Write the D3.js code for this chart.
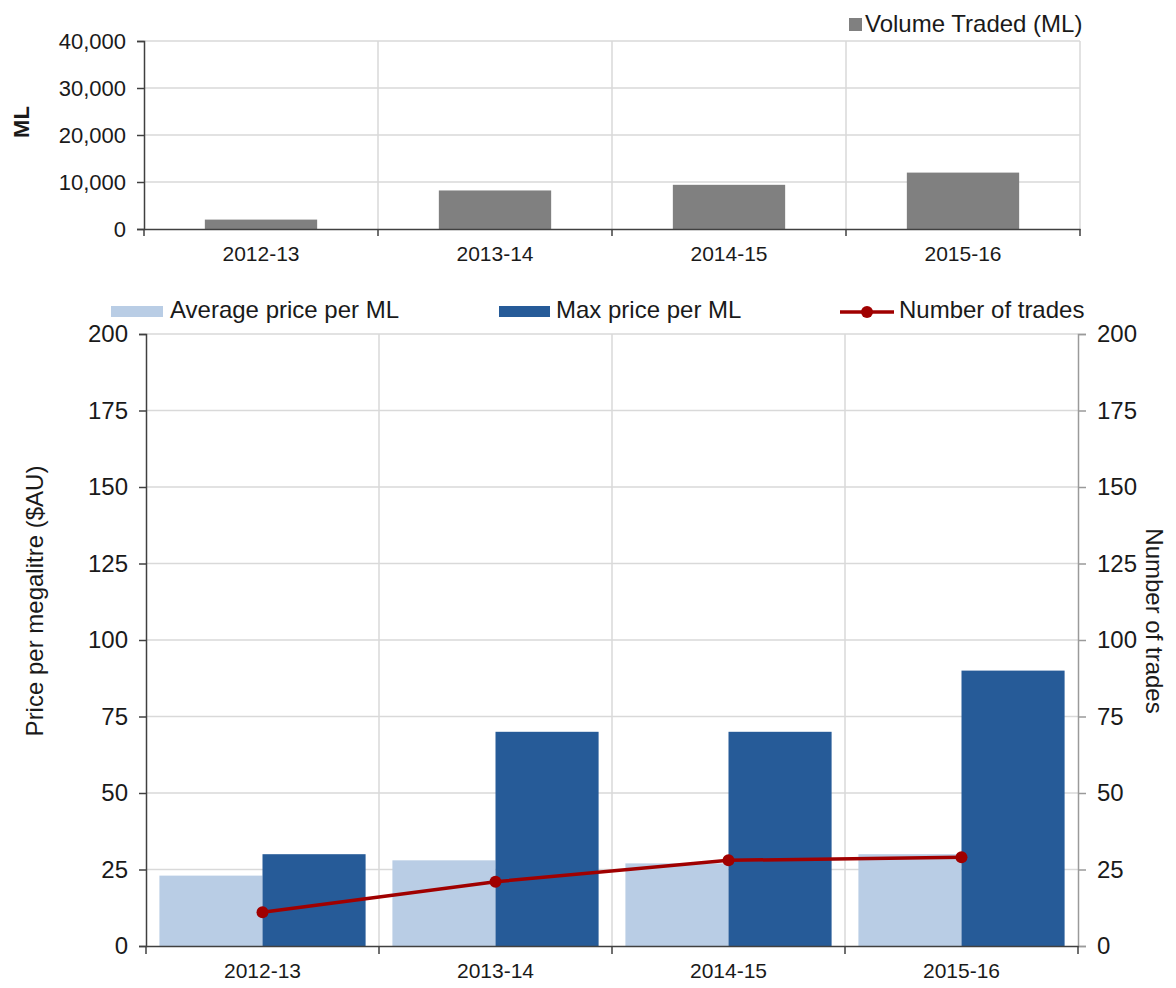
<!DOCTYPE html>
<html><head><meta charset="utf-8">
<script src="https://cdn.jsdelivr.net/npm/d3@7"></script>
<style>
html,body{margin:0;padding:0;background:#fff;}
text{font-family:"Liberation Sans",Arial,sans-serif;fill:#1a1a1a;}
</style></head><body>
<svg id="c" width="1176" height="988"></svg>
<script>
const categories = ["2012-13","2013-14","2014-15","2015-16"];
const volumeTraded = [2000, 8200, 9400, 12000];
const avgPrice = [23, 28, 27, 30];
const maxPrice = [30, 70, 70, 90];
const numTrades = [11, 21, 28, 29];
const volumeTicks = [0, 10000, 20000, 30000, 40000];
const priceTicks = [0, 25, 50, 75, 100, 125, 150, 175, 200];

const C = {grid:"#d9d9d9", axis:"#404040", axisR:"#9a9a9a", vol:"#808080", avg:"#b9cde5", max:"#265b98", line:"#a00000"};
const svg = d3.select("#c");

// ---------- Top chart ----------
const T = {l:144, r:1080, t:41, b:229};
const xt = d3.scaleBand().domain(categories).range([T.l, T.r]);
const xtBar = d3.scaleBand().domain(categories).range([T.l, T.r]).paddingInner(0.52).paddingOuter(0.26);
const yt = d3.scaleLinear().domain([0, 40000]).range([T.b, T.t]);

const gt = svg.append("g");
// horizontal grid
gt.selectAll(".hg").data(volumeTicks.filter(d=>d>0)).join("line")
  .attr("x1", T.l).attr("x2", T.r).attr("y1", d=>yt(d)).attr("y2", d=>yt(d))
  .attr("stroke", C.grid).attr("stroke-width", 1.5);
// vertical grid
const bTop = categories.map((c,i)=>xt(c)).slice(1).concat([T.r]);
gt.selectAll(".vg").data(bTop).join("line")
  .attr("x1", d=>d).attr("x2", d=>d).attr("y1", T.t).attr("y2", T.b)
  .attr("stroke", C.grid).attr("stroke-width", 1.5);
// bars
gt.selectAll(".vb").data(categories).join("rect")
  .attr("x", d=>xtBar(d)).attr("width", xtBar.bandwidth())
  .attr("y", (d,i)=>yt(volumeTraded[i])).attr("height", (d,i)=>T.b - yt(volumeTraded[i]))
  .attr("fill", C.vol);
// y axis
const yAxT = gt.append("g").attr("transform", `translate(${T.l},0)`)
  .call(d3.axisLeft(yt).tickValues(volumeTicks).tickSize(7).tickPadding(11).tickFormat(d3.format(",")));
yAxT.select(".domain").attr("stroke", C.axis).attr("stroke-width", 1.5);
yAxT.selectAll(".tick line").attr("stroke", C.axis).attr("stroke-width", 1.5);
yAxT.selectAll("text").attr("font-size", 22).attr("fill", "#1a1a1a").attr("font-family", "Liberation Sans, Arial");
// x axis
const xAxT = gt.append("g").attr("transform", `translate(0,${T.b})`)
  .call(d3.axisBottom(xt).tickSize(0).tickPadding(17));
xAxT.select(".domain").attr("stroke", C.axis).attr("stroke-width", 1.5);
xAxT.selectAll("text").attr("font-size", 21).attr("fill", "#1a1a1a").attr("font-family", "Liberation Sans, Arial");
gt.selectAll(".xtk").data([T.l].concat(bTop)).join("line")
  .attr("x1", d=>d).attr("x2", d=>d).attr("y1", T.b).attr("y2", T.b+7)
  .attr("stroke", C.axis).attr("stroke-width", 1.5);
// y title
gt.append("text").attr("transform", `translate(29,122) rotate(-90)`)
  .attr("text-anchor", "middle").attr("font-size", 22).attr("font-weight", "bold").text("ML");
// legend
gt.append("rect").attr("x", 849).attr("y", 18).attr("width", 13).attr("height", 13).attr("fill", C.vol);
gt.append("text").attr("x", 865).attr("y", 32).attr("font-size", 24).text("Volume Traded (ML)");

// ---------- Bottom chart ----------
const B = {l:146, r:1078, t:334, b:946};
const xb = d3.scaleBand().domain(categories).range([B.l, B.r]);
const xs = d3.scaleBand().domain(["avg","max"]).range([0, xb.bandwidth()]).paddingOuter(0.13);
const yb = d3.scaleLinear().domain([0, 200]).range([B.b, B.t]);
const yr = d3.scaleLinear().domain([0, 200]).range([B.b, B.t]);

const gb = svg.append("g");
gb.selectAll(".hg").data(priceTicks.filter(d=>d>0)).join("line")
  .attr("x1", B.l).attr("x2", B.r).attr("y1", d=>yb(d)).attr("y2", d=>yb(d))
  .attr("stroke", C.grid).attr("stroke-width", 1.5);
const bBot = categories.map(c=>xb(c)).slice(1);
gb.selectAll(".vg").data(bBot).join("line")
  .attr("x1", d=>d).attr("x2", d=>d).attr("y1", B.t).attr("y2", B.b)
  .attr("stroke", C.grid).attr("stroke-width", 1.5);

const grp = gb.selectAll(".grp").data(categories).join("g")
  .attr("transform", d=>`translate(${xb(d)},0)`);
grp.append("rect").attr("x", xs("avg")).attr("width", xs.bandwidth())
  .attr("y", (d,i)=>yb(avgPrice[i])).attr("height", (d,i)=>B.b - yb(avgPrice[i])).attr("fill", C.avg);
grp.append("rect").attr("x", xs("max")).attr("width", xs.bandwidth())
  .attr("y", (d,i)=>yb(maxPrice[i])).attr("height", (d,i)=>B.b - yb(maxPrice[i])).attr("fill", C.max);

// axes
const yAxB = gb.append("g").attr("transform", `translate(${B.l},0)`)
  .call(d3.axisLeft(yb).tickValues(priceTicks).tickSize(7).tickPadding(11));
yAxB.select(".domain").attr("stroke", C.axis).attr("stroke-width", 1.5);
yAxB.selectAll(".tick line").attr("stroke", C.axis).attr("stroke-width", 1.5);
yAxB.selectAll("text").attr("font-size", 24).attr("fill", "#1a1a1a").attr("font-family", "Liberation Sans, Arial");

const yAxR = gb.append("g").attr("transform", `translate(${B.r},0)`)
  .call(d3.axisRight(yr).tickValues(priceTicks).tickSize(8).tickPadding(11));
yAxR.select(".domain").attr("stroke", C.axisR).attr("stroke-width", 1.5);
yAxR.selectAll(".tick line").attr("stroke", C.axisR).attr("stroke-width", 1.5);
yAxR.selectAll("text").attr("font-size", 24).attr("fill", "#1a1a1a").attr("font-family", "Liberation Sans, Arial");

const xAxB = gb.append("g").attr("transform", `translate(0,${B.b})`)
  .call(d3.axisBottom(xb).tickSize(0).tickPadding(17));
xAxB.select(".domain").attr("stroke", C.axis).attr("stroke-width", 1.5);
xAxB.selectAll("text").attr("font-size", 21).attr("fill", "#1a1a1a").attr("font-family", "Liberation Sans, Arial");
gb.selectAll(".xtk").data([B.l].concat(bBot).concat([B.r])).join("line")
  .attr("x1", d=>d).attr("x2", d=>d).attr("y1", B.b).attr("y2", B.b+8)
  .attr("stroke", C.axis).attr("stroke-width", 1.5);

// line
const lineGen = d3.line().x((d,i)=>xb(categories[i]) + xb.bandwidth()/2).y(d=>yr(d));
gb.append("path").datum(numTrades).attr("d", lineGen)
  .attr("fill", "none").attr("stroke", C.line).attr("stroke-width", 3.5);
gb.selectAll(".pt").data(numTrades).join("circle")
  .attr("cx", (d,i)=>xb(categories[i]) + xb.bandwidth()/2).attr("cy", d=>yr(d))
  .attr("r", 6).attr("fill", C.line);

// titles
gb.append("text").attr("transform", `translate(43,601) rotate(-90)`)
  .attr("text-anchor", "middle").attr("font-size", 24).text("Price per megalitre ($AU)");
gb.append("text").attr("transform", `translate(1146,621) rotate(90)`)
  .attr("text-anchor", "middle").attr("font-size", 24).text("Number of trades");

// legend
gb.append("rect").attr("x", 111).attr("y", 306).attr("width", 52).attr("height", 11).attr("fill", C.avg);
gb.append("text").attr("x", 170).attr("y", 318).attr("font-size", 24).text("Average price per ML");
gb.append("rect").attr("x", 499).attr("y", 306).attr("width", 51).attr("height", 11).attr("fill", C.max);
gb.append("text").attr("x", 556).attr("y", 318).attr("font-size", 24).text("Max price per ML");
gb.append("line").attr("x1", 840).attr("x2", 894).attr("y1", 312).attr("y2", 312)
  .attr("stroke", C.line).attr("stroke-width", 3.5);
gb.append("circle").attr("cx", 867).attr("cy", 312).attr("r", 6).attr("fill", C.line);
gb.append("text").attr("x", 899).attr("y", 318).attr("font-size", 24).text("Number of trades");
</script>
</body></html>
